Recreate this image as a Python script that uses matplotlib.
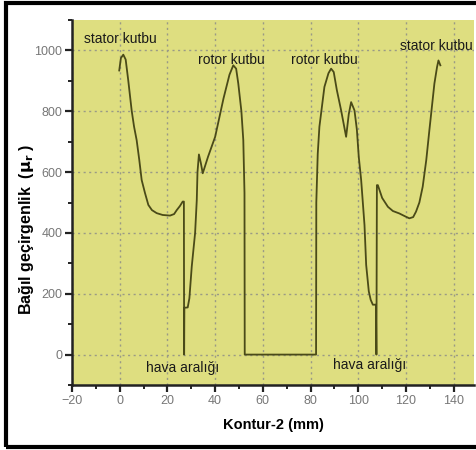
import matplotlib
matplotlib.use("Agg")
import matplotlib.pyplot as plt
from matplotlib.patches import Rectangle
from matplotlib.ticker import MultipleLocator

plt.rcParams['font.family'] = ['Liberation Sans', 'DejaVu Sans']

# Curve data (Kontur-2 position in mm, relative permeability)
kontur_mm = [-0.2, 0.5, 1.5, 2.5, 3.6, 5.0, 6.0, 7.1, 8.2, 9.2, 10.6, 12.0, 13.5,
             15.5, 18.0, 21.1, 22.8, 23.9, 25.2, 26.4, 26.9, 27.0, 27.1, 28.5,
             29.2, 30.2, 31.6, 32.3, 32.6, 33.2, 34.0, 34.8, 37.0, 40.0, 43.5,
             46.0, 47.6, 48.8, 49.7, 51.0, 51.8, 52.3, 52.4,
             82.3, 82.4, 83.0, 83.7, 85.8, 87.5, 88.6, 89.7, 91.0, 92.8, 94.9,
             96.0, 97.0, 98.4, 99.4, 100.2, 101.2, 102.6, 103.3, 104.4, 105.2,
             106.1, 107.4, 107.6, 107.8, 108.2, 110.0, 112.4, 114.5, 117.2,
             119.5, 121.4, 123.0, 124.2, 125.6, 127.0, 128.5, 129.8, 131.9,
             133.0, 133.6, 134.4]
permeability = [934, 975, 986, 970, 900, 803, 750, 705, 640, 574, 531, 492, 475,
                465, 459, 457, 462, 475, 488, 503, 503, 0, 154, 155,
                185, 290, 400, 508, 600, 658, 630, 596, 650, 716, 842,
                920, 951, 940, 891, 800, 705, 531, 0,
                0, 500, 660, 749, 880, 925, 940, 929, 870, 803, 716,
                790, 830, 803, 740, 650, 574, 426, 295, 208, 180,
                164, 164, 0, 557, 557, 515, 486, 472, 464,
                455, 448, 452, 470, 500, 552, 640, 738, 891,
                945, 967, 951]

ann_texts = ["stator kutbu", "rotor kutbu", "rotor kutbu", "stator kutbu",
             "hava aralığı", "hava aralığı"]
ann_x = [0.1, 46.7, 85.9, 132.6, 26.3, 104.7]
ann_y = [1039, 967, 967, 1016, -43, -33]

x_ticks = [-20, 0, 20, 40, 60, 80, 100, 120, 140]
y_ticks = [0, 200, 400, 600, 800, 1000]

fig = plt.figure(figsize=(4.76, 4.50), dpi=100)
fig.patch.set_facecolor('white')

# outer black frame
fig.patches.append(Rectangle((6 / 476, 3 / 450), 1.2, 444 / 450,
                             transform=fig.transFigure, fill=False,
                             edgecolor='black', linewidth=3, zorder=10))

ax = fig.add_axes([72 / 476, 65 / 450, (474 - 72) / 476, 365 / 450])
ax.set_facecolor('#dede80')
ax.plot(kontur_mm, permeability, color='#4a4a18', linewidth=1.3, zorder=3)

ax.set_xlim(-20, 148.5)
ax.set_ylim(-100, 1100)
ax.set_xticks(x_ticks)
ax.set_yticks(y_ticks)
ax.xaxis.set_minor_locator(MultipleLocator(10))
ax.yaxis.set_minor_locator(MultipleLocator(100))
ax.grid(True, which='major', color='#9a9a86', linestyle=(0, (1.5, 2.5)), linewidth=1.0)
ax.set_axisbelow(True)

for s in ['top', 'right']:
    ax.spines[s].set_visible(False)
for s in ['left', 'bottom']:
    ax.spines[s].set_linewidth(1.8)
    ax.spines[s].set_color('#222222')

ax.tick_params(which='major', direction='out', length=5, width=1.6, color='#222222',
               labelsize=9, labelcolor='#777777', pad=2)
ax.tick_params(which='minor', direction='out', length=3, width=1.4, color='#222222')

ax.set_xlabel('Kontur-2 (mm)', fontsize=10.5, fontweight='bold', labelpad=8)
ax.set_ylabel('Bağıl geçirgenlik  ($\\mathbf{\\mu_r}$ )', fontsize=11.5, fontweight='bold')
ax.yaxis.set_label_coords(-0.09, 0.427)

for t, x, y in zip(ann_texts, ann_x, ann_y):
    ax.text(x, y, t, fontsize=10, ha='center', va='center', color='#1a1a1a')

fig.savefig('out.png', dpi=100)
